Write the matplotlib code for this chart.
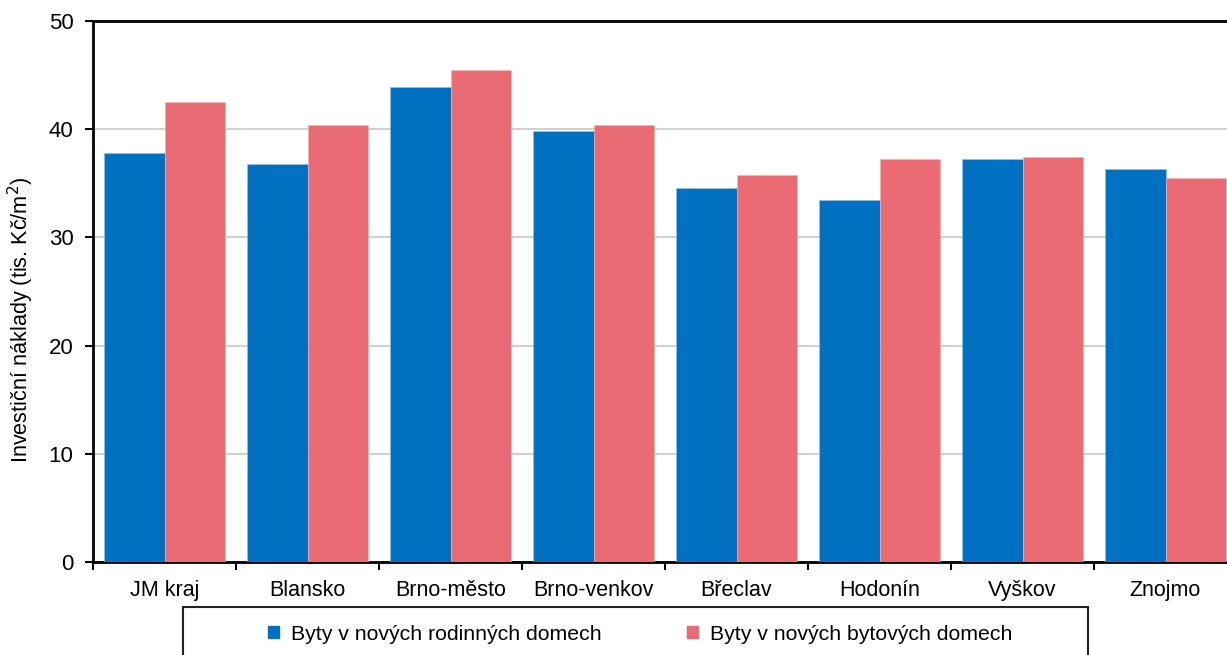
import matplotlib
matplotlib.use("Agg")
import matplotlib.pyplot as plt
from matplotlib.patches import Rectangle, Patch

plt.rcParams['font.family'] = ['Liberation Sans', 'DejaVu Sans']

districts = ["JM kraj", "Blansko", "Brno-město", "Brno-venkov", "Břeclav",
             "Hodonín", "Vyškov", "Znojmo"]
family_houses = [37.8, 36.8, 43.9, 39.8, 34.6, 33.5, 37.2, 36.3]
apartment_buildings = [42.5, 40.4, 45.5, 40.4, 35.8, 37.2, 37.4, 35.5]
series_labels = ["Byty v nových rodinných domech", "Byty v nových bytových domech"]
y_ticks = [0, 10, 20, 30, 40, 50]

blue = "#0070C0"
red = "#EA6B73"

W, H = 1227, 655
fig = plt.figure(figsize=(W / 100, H / 100), dpi=100)
ax = fig.add_axes([93 / W, 1 - 562 / H, (1237 - 93) / W, (562 - 21) / H])

x = list(range(len(districts)))
bw = 0.42
ax.bar([i - bw / 2 for i in x], family_houses, width=bw, color=blue,
       edgecolor="#9ec3e0", linewidth=0.4, zorder=3)
ax.bar([i + bw / 2 for i in x], apartment_buildings, width=bw, color=red,
       edgecolor="#f4b3b7", linewidth=0.4, zorder=3)

ax.set_xlim(-0.5, len(districts) - 0.5)
ax.set_ylim(0, 50)
ax.set_yticks(y_ticks)
ax.tick_params(axis="y", labelsize=16, length=6, width=1.5, direction="out", pad=8)
ax.set_xticks(x)
ax.set_xticklabels(districts, fontsize=15.5)
ax.tick_params(axis="x", which="major", length=0, pad=13)
ax.set_xticks([i - 0.5 for i in range(len(districts) + 1)], minor=True)
ax.tick_params(axis="x", which="minor", length=6, width=1.5, direction="out")

ax.grid(axis="y", color="#c8c8c8", linewidth=1.2, zorder=0)
ax.set_axisbelow(True)
for side in ("left", "bottom", "top"):
    ax.spines[side].set_linewidth(2)
    ax.spines[side].set_color("black")
ax.spines["right"].set_visible(False)

ax.set_ylabel("Investiční náklady (tis. Kč/m$^2$)", fontsize=15.6)
ax.yaxis.set_label_coords(-0.0495, 0.447)

# legend frame running off the bottom edge
fig.add_artist(Rectangle((183 / W, -0.05), (1088 - 183) / W, (655 - 607) / H + 0.05,
                         transform=fig.transFigure, fill=False,
                         edgecolor="#222222", linewidth=1.5))
handles = [Patch(color=blue), Patch(color=red)]
fig.legend(handles, series_labels, loc="center", ncol=2, frameon=False,
           bbox_to_anchor=(640 / W, 1 - 634 / H), fontsize=15.3,
           handlelength=0.52, handleheight=0.52, handletextpad=0.56,
           columnspacing=4.0)

fig.savefig("out.png", dpi=100)
